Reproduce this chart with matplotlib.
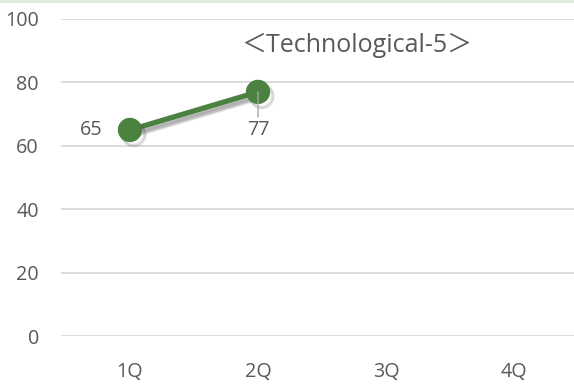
import matplotlib
matplotlib.use("Agg")
import matplotlib.pyplot as plt
import matplotlib.patheffects as pe
from matplotlib.lines import Line2D

plt.rcParams['font.family'] = ['Open Sans', 'Noto Sans CJK JP', 'DejaVu Sans']

quarters = ["1Q", "2Q", "3Q", "4Q"]
scores = [65, 77]
y_ticks = [0, 20, 40, 60, 80, 100]
title = "＜Technological-5＞"

text_color = "#595959"
line_color = "#4b8240"
fs = 14.2

fig = plt.figure(figsize=(5.74, 3.87), dpi=100)
ax = fig.add_axes([61 / 574, 51 / 387, 513 / 574, 317 / 387])

ax.set_ylim(0, 100)
ax.set_xlim(-0.539, 3.469)
ax.set_yticks(y_ticks)
ax.set_xticks(range(len(quarters)))
ax.set_xticklabels(quarters)
ax.grid(axis="y", color="#d9d9d9", linewidth=1.3)
ax.set_axisbelow(True)
for s in ax.spines.values():
    s.set_visible(False)
ax.tick_params(length=0, labelsize=fs, labelcolor=text_color)
ax.tick_params(axis="y", pad=16)
ax.tick_params(axis="x", pad=19)

# soft drop shadow built from a few faint offset copies
shadow = [pe.SimpleLineShadow(offset=(dx, -dy), alpha=0.09, shadow_color="#333333")
          for dx, dy in [(1.5, 2), (2.5, 3), (3.2, 3.8), (2, 3.5), (3, 2.5)]]

x = list(range(len(scores)))
ax.plot(x, scores, color=line_color, linewidth=3.8, marker="o", markersize=16.5,
        markerfacecolor=line_color, markeredgecolor=line_color, zorder=3,
        path_effects=shadow + [pe.Normal()])

# value labels
ax.annotate(str(scores[0]), (0, scores[0]), xytext=(-20, 0), textcoords="offset points",
            ha="right", va="center", fontsize=fs, color=text_color)
ax.annotate(str(scores[1]), (1, scores[1]), xytext=(0, -20), textcoords="offset points",
            ha="center", va="top", fontsize=fs, color=text_color,
            arrowprops=dict(arrowstyle="-", color="#a6a6a6", lw=1, shrinkA=0, shrinkB=0))

ax.text(1.773, 91.5, title, ha="center", va="center", fontsize=18, color=text_color)

fig.add_artist(Line2D([0, 1], [0.998, 0.998], transform=fig.transFigure,
                      color="#d8ecd6", linewidth=2))

fig.savefig("out.png", dpi=100)
